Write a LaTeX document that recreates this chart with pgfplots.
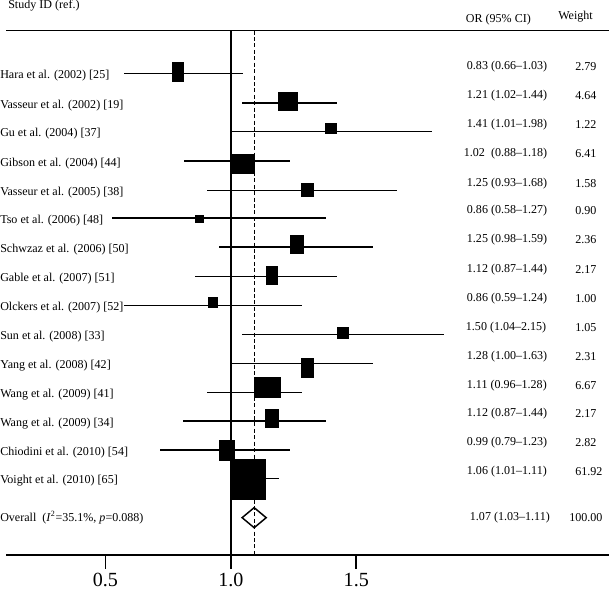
\documentclass[border=0pt]{standalone}
\usepackage{fontspec}
\setmainfont{Liberation Serif}
\usepackage{pgfplots}
\usepackage{pgfplotstable}
\pgfplotsset{compat=1.18}

% filled box, size in pixels of the original figure (0.75pt each)
\pgfdeclareplotmark{studybox}{%
  \pgfpathrectangle{\pgfpoint{-0.375*\boxw pt}{-0.375*\boxh pt}}{\pgfpoint{0.75*\boxw pt}{0.75*\boxh pt}}%
  \pgfusepathqfill}

% lo/hi: CI line ends, ly: line row, sx/sy: box centre, w/h: box size
\pgfplotstableread{
lo     hi     ly      sx     sy      w     h
0.575  1.048  -75.7   0.788  -74.0   12.0  20.0
1.045  1.424  -105.0  1.228  -103.5  20.0  18.4
1.001  1.801  -133.3  1.401  -130.3  12.0  10.7
0.812  1.237  -163.0  1.048  -166.0  23.4  20.0
0.905  1.661  -192.0  1.307  -192.0  12.7  13.4
0.528  1.379  -219.7  0.875  -220.7   8.7   8.7
0.952  1.568  -248.7  1.263  -246.5  14.0  19.0
0.857  1.425  -277.7  1.165  -276.7  12.0  18.7
0.575  1.285  -306.7  0.929  -303.7  10.3  10.7
1.045  1.851  -335.7  1.448  -334.2  12.0  11.7
1.001  1.568  -364.5  1.307  -369.2  12.7  20.3
0.904  1.285  -393.3  1.147  -388.7  27.3  20.7
0.811  1.379  -422.0  1.164  -419.7  13.4  19.3
0.717  1.237  -450.7  0.985  -451.3  16.3  20.7
1.001  1.191  -479.3  1.070  -480.3  35.6  40.7
}\studies

\pgfplotstableread[col sep=comma]{
name,ny,or,ox,oy,wt,wx
Hara et al. (2002) [25],-78.2,0.83 (0.66–1.03),1.940,-68.7,2.79,2.372
Vasseur et al. (2002) [19],-107.5,1.21 (1.02–1.44),1.940,-98.0,4.64,2.372
Gu et al. (2004) [37],-135.8,1.41 (1.01–1.98),1.940,-126.3,1.22,2.372
Gibson et al. (2004) [44],-165.5,1.02\ \ (0.88–1.18),1.928,-156.0,6.41,2.372
Vasseur et al. (2005) [38],-194.5,1.25 (0.93–1.68),1.940,-185.0,1.58,2.372
Tso et al. (2006) [48],-222.2,0.86 (0.58–1.27),1.940,-212.7,0.90,2.372
Schwzaz et al. (2006) [50],-251.2,1.25 (0.98–1.59),1.940,-241.7,2.36,2.372
Gable et al. (2007) [51],-280.2,1.12 (0.87–1.44),1.940,-270.7,2.17,2.372
Olckers et al. (2007) [52],-309.2,0.86 (0.59–1.24),1.940,-299.7,1.00,2.372
Sun et al. (2008) [33],-338.2,1.50 (1.04–2.15),1.936,-328.7,1.05,2.372
Yang et al. (2008) [42],-367.0,1.28 (1.00–1.63),1.940,-357.5,2.31,2.372
Wang et al. (2009) [41],-395.8,1.11 (0.96–1.28),1.940,-386.3,6.67,2.372
Wang et al. (2009) [34],-424.5,1.12 (0.87–1.44),1.940,-415.0,2.17,2.372
Chiodini et al. (2010) [54],-453.2,0.99 (0.79–1.23),1.940,-443.7,2.82,2.372
Voight et al. (2010) [65],-481.8,1.06 (1.01–1.11),1.940,-472.3,61.92,2.372
}\labels

\pgfplotsset{
  coltext/.style={draw=none, mark=none, nodes near coords,
    point meta=explicit symbolic, nodes near coords align=horizontal,
    every node near coord/.append style={font=\fontsize{9}{10.8}\selectfont,
      inner sep=0pt, anchor=west, black}},
}

\begin{document}
\begin{tikzpicture}
\begin{axis}[
  x=187.5pt, y=0.75pt,
  xmin=0.104, xmax=2.508,
  ymin=-555.3, ymax=-33,
  clip=false,
  separate axis lines,
  y axis line style={draw=none},
  x axis line style={line width=1.2pt},
  xtick={0.5,1,1.5},
  xticklabels={0.5,1.0,1.5},
  xtick pos=bottom,
  ytick=\empty,
  tick align=outside,
  major tick length=10.5pt,
  x tick style={line width=1.2pt, black},
  xticklabel style={font=\fontsize{15}{18}\selectfont},
  /pgf/number format/assume math mode=true,
]
% confidence intervals
\addplot[black, draw=none, mark=none,
  error bars/.cd, x dir=both, x explicit, error mark=none,
  error bar style={line width=1pt, draw=black, solid}]
  table[x expr={(\thisrow{lo}+\thisrow{hi})/2}, y=ly,
        x error expr={(\thisrow{hi}-\thisrow{lo})/2}] {\studies};
% line of no effect
\addplot[black, line width=1.2pt] coordinates {(1,-33) (1,-555.3)};
% study weights as boxes
\addplot[scatter, only marks, mark=studybox,
  scatter/use mapped color={draw=none, fill=black},
  visualization depends on={\thisrow{w}\as\boxw},
  visualization depends on={\thisrow{h}\as\boxh}]
  table[x=sx, y=sy] {\studies};
% pooled estimate
\addplot[black, line width=1.1pt, fill=white] coordinates {
  (1.045,-518.3) (1.093,-508.3) (1.141,-518.3) (1.093,-528.3)} -- cycle;
\addplot[black, line width=1.1pt, dash pattern=on 3pt off 1.8pt]
  coordinates {(1.095,-33) (1.095,-555.3)};

% text columns
\addplot[coltext] table[x expr=0.080, y=ny, meta=name] {\labels};
\addplot[coltext] table[x=ox, y=oy, meta=or] {\labels};
\addplot[coltext] table[x=wx, y=oy, meta=wt] {\labels};
\addplot[coltext] coordinates {
  (0.112,-8) [Study ID (ref.)]
  (1.936,-22) [OR (95\% CI)]
  (2.304,-19.5) [Weight]
  (1.952,-518) [1.07 (1.03–1.11)]
  (2.348,-518) [100.00]};
\addplot[draw=none, mark=none, nodes near coords={Overall\ \ (\textit{I}\textsuperscript{2}=35.1\%, \textit{p}=0.088)},
  nodes near coords align=horizontal,
  every node near coord/.append style={font=\fontsize{9}{10.8}\selectfont,
    inner sep=0pt, anchor=west, black}]
  coordinates {(0.080,-518)};
\end{axis}
\end{tikzpicture}
\end{document}
